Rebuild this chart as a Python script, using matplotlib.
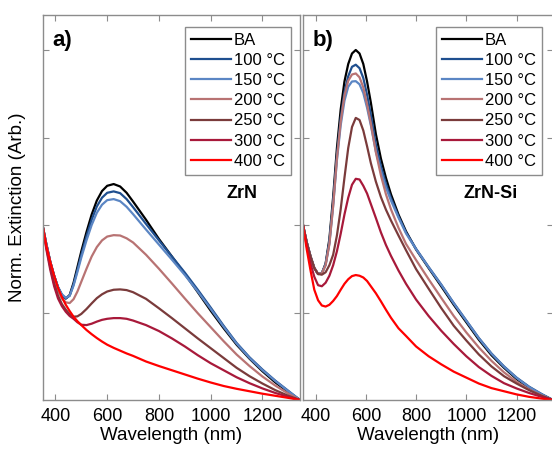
import numpy as np
import matplotlib
matplotlib.use("Agg")
import matplotlib.pyplot as plt

plt.rcParams['font.family'] = ['Liberation Sans', 'DejaVu Sans']

labels = ["BA", "100 °C", "150 °C", "200 °C", "250 °C", "300 °C", "400 °C"]
colors = ["#000000", "#1f4f8f", "#5b86c4", "#b87373", "#7a3b3b", "#a8193a", "#ff0000"]

# panel a) ZrN  -- wavelength (nm)
wl_a = [350, 365, 380, 395, 410, 425, 440, 455, 470, 485, 500, 520, 540, 560, 580, 600, 625,
        650, 675, 700, 750, 800, 850, 900, 950, 1000, 1050, 1100, 1150, 1200, 1250, 1300, 1345]
zrn_ba = [.5, .445, .395, .355, .322, .3, .29, .3, .335, .38, .425, .48, .53, .57, .597, .612, .617,
          .61, .592, .567, .515, .46, .41, .36, .308, .255, .205, .158, .118, .082, .05, .023, 0]
zrn_100 = [.5, .445, .395, .355, .322, .3, .29, .298, .33, .372, .415, .468, .515, .553, .578, .592, .596,
           .591, .574, .551, .503, .456, .41, .364, .315, .264, .212, .163, .122, .087, .055, .026, 0]
zrn_150 = [.5, .445, .395, .355, .323, .302, .292, .298, .327, .366, .407, .456, .5, .535, .558, .571, .574,
           .568, .552, .531, .487, .444, .401, .357, .31, .26, .209, .161, .12, .085, .054, .025, 0]
zrn_200 = [.5, .44, .39, .345, .312, .29, .279, .277, .288, .31, .338, .375, .41, .437, .456, .467, .471,
           .47, .462, .45, .415, .375, .333, .29, .248, .208, .168, .13, .097, .067, .041, .018, 0]
zrn_250 = [.5, .435, .38, .332, .298, .274, .258, .245, .238, .239, .246, .26, .276, .291, .302, .31, .315,
           .316, .314, .308, .289, .262, .234, .205, .176, .148, .12, .092, .068, .047, .028, .012, 0]
zrn_300 = [.5, .43, .372, .325, .29, .268, .252, .24, .232, .222, .215, .214, .218, .224, .229, .232, .234,
           .234, .232, .227, .214, .197, .176, .153, .128, .105, .085, .065, .048, .033, .02, .009, 0]
zrn_400 = [.5, .44, .395, .355, .32, .294, .272, .254, .238, .225, .214, .2, .188, .177, .167, .158, .149,
           .141, .133, .126, .11, .097, .085, .073, .061, .05, .04, .032, .025, .018, .012, .006, 0]

# panel b) ZrN-Si  -- wavelength (nm)
wl_b = [350, 365, 380, 395, 410, 425, 440, 455, 470, 485, 500, 515, 530, 545, 560, 575, 590, 605, 620,
        640, 660, 680, 700, 730, 760, 800, 850, 900, 950, 1000, 1050, 1100, 1150, 1200, 1250, 1300, 1345]
si_ba = [.5, .45, .41, .377, .36, .362, .39, .46, .58, .72, .83, .91, .96, .99, 1.0, .99, .96, .91, .85,
         .76, .69, .635, .588, .53, .482, .43, .377, .325, .272, .222, .172, .128, .092, .06, .035, .015, 0]
si_100 = [.5, .45, .41, .377, .36, .362, .388, .452, .565, .70, .805, .88, .925, .952, .958, .948, .92, .872, .815,
          .73, .668, .618, .577, .525, .479, .432, .38, .33, .277, .227, .177, .133, .096, .064, .038, .017, 0]
si_150 = [.5, .45, .41, .377, .36, .362, .386, .447, .555, .685, .785, .855, .895, .91, .911, .902, .877, .835, .785,
          .71, .655, .607, .57, .521, .476, .431, .379, .329, .276, .226, .176, .132, .095, .063, .037, .016, 0]
si_200 = [.5, .45, .41, .377, .36, .362, .385, .445, .555, .69, .795, .87, .912, .93, .933, .922, .893, .845, .79,
          .708, .642, .588, .545, .492, .446, .4, .345, .292, .24, .193, .15, .112, .079, .052, .03, .013, 0]
si_250 = [.5, .45, .41, .377, .36, .358, .365, .385, .415, .47, .545, .635, .72, .78, .806, .8, .77, .725, .677,
          .624, .58, .544, .513, .47, .428, .374, .318, .263, .212, .17, .13, .096, .068, .047, .028, .012, 0]
si_300 = [.5, .44, .39, .352, .328, .325, .335, .355, .385, .425, .475, .53, .578, .615, .632, .63, .612, .59, .56,
          .52, .479, .443, .412, .37, .332, .287, .24, .198, .16, .125, .094, .069, .048, .033, .02, .009, 0]
si_400 = [.5, .43, .37, .315, .285, .27, .267, .272, .283, .297, .315, .332, .345, .354, .357, .355, .35, .34, .325,
          .305, .282, .258, .235, .205, .183, .153, .125, .102, .081, .064, .047, .034, .025, .016, .009, .004, 0]

panels = [
    ("a)", "ZrN", wl_a, [zrn_ba, zrn_100, zrn_150, zrn_200, zrn_250, zrn_300, zrn_400]),
    ("b)", "ZrN-Si", wl_b, [si_ba, si_100, si_150, si_200, si_250, si_300, si_400]),
]

W, H = 552, 451
fig = plt.figure(figsize=(W / 100, H / 100), dpi=100)
boxes = [(42.5, 257.5), (303, 250)]
spine_col = "#8c8c8c"

for i, (tag, name, wl, curves) in enumerate(panels):
    left, width = boxes[i]
    ax = fig.add_axes([left / W, (H - 400) / H, width / W, 385 / H])
    for y, lab, c in zip(curves, labels, colors):
        ax.plot(wl, y, color=c, lw=1.6, label=lab, solid_joinstyle="round")
    ax.set_xlim(350, 1345)
    ax.set_ylim(0, 1.1)
    ax.set_xticks([400, 600, 800, 1000, 1200])
    ax.set_yticks([0.25, 0.5, 0.75, 1.0])
    ax.set_yticklabels([])
    ax.tick_params(direction="in", length=4, width=0.8, color=spine_col,
                   top=True, right=True, labelsize=13, pad=6)
    for s in ax.spines.values():
        s.set_color(spine_col)
        s.set_linewidth(1.0)
    ax.set_xlabel("Wavelength (nm)", fontsize=13.5, labelpad=1)
    if i == 0:
        ax.set_ylabel("Norm. Extinction (Arb.)", fontsize=13.5, labelpad=6)
    anchor_x = 0.965 if i == 0 else 0.956
    leg = ax.legend(loc="upper right", bbox_to_anchor=(anchor_x, 0.969), borderaxespad=0,
                    fontsize=12, fancybox=False, framealpha=1, edgecolor=spine_col,
                    handlelength=2.4, handletextpad=0.2, labelspacing=0.31,
                    borderpad=0.35)
    leg.get_frame().set_linewidth(1.0)
    ax.text(0.04, 0.92, tag, transform=ax.transAxes, fontsize=16, fontweight="bold",
            va="baseline")
    nx = 0.774 if i == 0 else 0.752
    ax.text(nx, 0.525, name, transform=ax.transAxes, fontsize=13, fontweight="bold",
            ha="center", va="baseline")

fig.savefig("out.png", dpi=100)
